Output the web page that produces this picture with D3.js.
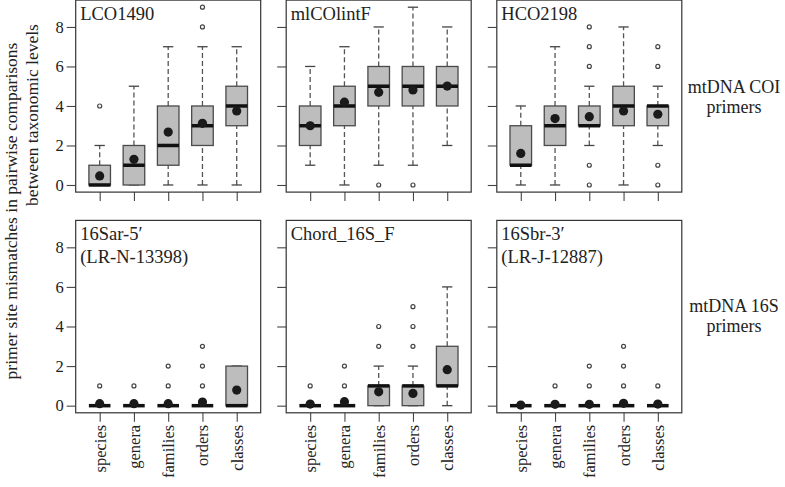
<!DOCTYPE html>
<html>
<head>
<meta charset="utf-8">
<script src="https://cdn.jsdelivr.net/npm/d3@7/dist/d3.min.js"></script>
<style>
body{margin:0;background:#fff;}
svg{display:block;font-family:"Liberation Serif","Times New Roman",serif;}
</style>
</head>
<body>
<svg id="chart" width="785" height="487"></svg>
<script>
// ---------- data ----------
const categories = ["species","genera","families","orders","classes"];
const yTicks = [0,2,4,6,8];
const panelTitles = [["LCO1490"],["mlCOlintF"],["HCO2198"],["16Sar-5\u2032","(LR-N-13398)"],["Chord_16S_F"],["16Sbr-3\u2032","(LR-J-12887)"]];
const rowLabels = [["mtDNA COI","primers"],["mtDNA 16S","primers"]];

// [lower whisker, q1, median, q3, upper whisker] per category
const lco1490Stats   = [[0,0,0,1,2],[0,0,1,2,5],[0,1,2,4,7],[0,2,3,4,7],[0,3,4,5,7]];
const lco1490Means   = [0.46,1.3,2.68,3.12,3.75];
const lco1490Out     = [[4],[],[],[8,9],[]];

const mlcoStats      = [[1,2,3,4,6],[0,3,4,5,7],[1,4,5,6,8],[1,4,5,6,9],[2,4,5,6,8]];
const mlcoMeans      = [3.0,4.19,4.69,4.81,5.01];
const mlcoOut        = [[],[],[0],[0],[]];

const hco2198Stats   = [[0,1,1,3,4],[0,2,3,4,7],[2,3,3,4,5],[0,3,4,5,8],[2,3,4,4,5]];
const hco2198Means   = [1.6,3.36,3.46,3.75,3.58];
const hco2198Out     = [[],[],[0,1,6,7,8],[],[0,1,6,7]];

const s16arStats     = [[0,0,0,0,0],[0,0,0,0,0],[0,0,0,0,0],[0,0,0,0,0],[0,0,0,2,2]];
const s16arMeans     = [0.1,0.1,0.1,0.18,0.79];
const s16arOut       = [[1],[1],[1,2],[1,2,3],[]];

const chordStats     = [[0,0,0,0,0],[0,0,0,0,0],[0,0,1,1,2],[0,0,1,1,2],[0,1,1,3,6]];
const chordMeans     = [0.08,0.2,0.7,0.62,1.82];
const chordOut       = [[1],[1,2],[3,4],[3,4,5],[]];

const s16brStats     = [[0,0,0,0,0],[0,0,0,0,0],[0,0,0,0,0],[0,0,0,0,0],[0,0,0,0,0]];
const s16brMeans     = [0.03,0.07,0.07,0.12,0.08];
const s16brOut       = [[],[1],[1,2],[1,2,3],[1]];

const panelStats = [lco1490Stats,mlcoStats,hco2198Stats,s16arStats,chordStats,s16brStats];
const panelMeans = [lco1490Means,mlcoMeans,hco2198Means,s16arMeans,chordMeans,s16brMeans];
const panelOut   = [lco1490Out,mlcoOut,hco2198Out,s16arOut,chordOut,s16brOut];

// ---------- layout ----------
const svg = d3.select("#chart");
const panelW = 185;
const colX = [75.7, 286.2, 496.8];
const rowY = [[0.1,192.1],[220.4,412.8]]; // top, bottom
const ink = "#222";
const boxStroke = "#4a4a4a";

for (let p = 0; p < 6; p++) {
  const r = Math.floor(p/3), c = p%3;
  const x0 = colX[c], x1 = x0 + panelW;
  const yTop = rowY[r][0], yBot = rowY[r][1];
  const x = d3.scaleLinear().domain([0.3, 5.7]).range([x0, x1]);
  const y = d3.scaleLinear().domain([-0.36, 9.36]).range([yBot, yTop]);
  const g = svg.append("g");

  // y axis
  const ya = d3.axisLeft(y).tickValues(yTicks).tickSize(9).tickPadding(3)
    .tickFormat(c === 0 ? d3.format("d") : () => "");
  const yg = g.append("g").attr("transform", `translate(${x0},0)`).call(ya);
  yg.select(".domain").remove();
  yg.selectAll("line").attr("stroke", "#444").attr("stroke-width", 1.1);
  yg.selectAll("text").attr("font-size", 16.5).attr("fill", ink)
    .attr("font-family", "Liberation Serif, serif");

  // x axis
  const xa = d3.axisBottom(x).tickValues([1,2,3,4,5]).tickSize(9).tickPadding(4)
    .tickFormat(r === 1 ? (d => categories[d-1]) : () => "");
  const xg = g.append("g").attr("transform", `translate(0,${yBot})`).call(xa);
  xg.select(".domain").remove();
  xg.selectAll("line").attr("stroke", "#444").attr("stroke-width", 1.1);
  xg.selectAll("text").attr("font-size", 16.5).attr("fill", ink)
    .attr("font-family", "Liberation Serif, serif")
    .attr("transform", "rotate(-90)")
    .attr("text-anchor", "end").attr("dy", "0.33em")
    .attr("x", -12).attr("y", 0);

  const stats = panelStats[p], means = panelMeans[p], outs = panelOut[p];
  const bw = x(1.315) - x(1), cw = x(1.15) - x(1);

  stats.forEach((s, i) => {
    const cx = x(i+1);
    // whiskers (dashed)
    g.append("line").attr("x1", cx).attr("x2", cx).attr("y1", y(s[0])).attr("y2", y(s[1]))
      .attr("stroke", "#555").attr("stroke-width", 1.3).attr("stroke-dasharray", "5,3");
    g.append("line").attr("x1", cx).attr("x2", cx).attr("y1", y(s[3])).attr("y2", y(s[4]))
      .attr("stroke", "#555").attr("stroke-width", 1.3).attr("stroke-dasharray", "5,3");
    // caps
    [s[0], s[4]].forEach(v => {
      g.append("line").attr("x1", cx - cw).attr("x2", cx + cw).attr("y1", y(v)).attr("y2", y(v))
        .attr("stroke", "#444").attr("stroke-width", 1.3);
    });
    // box
    g.append("rect").attr("x", cx - bw).attr("width", 2*bw)
      .attr("y", y(s[3])).attr("height", Math.max(0, y(s[1]) - y(s[3])))
      .attr("fill", "#bdbdbd").attr("stroke", boxStroke).attr("stroke-width", 1.3);
    // median
    g.append("line").attr("x1", cx - bw).attr("x2", cx + bw).attr("y1", y(s[2])).attr("y2", y(s[2]))
      .attr("stroke", "#111").attr("stroke-width", 3.5);
    // outliers
    outs[i].forEach(v => {
      g.append("circle").attr("cx", cx).attr("cy", y(v)).attr("r", 2)
        .attr("fill", "#fff").attr("stroke", "#444").attr("stroke-width", 1.2);
    });
    // mean
    g.append("circle").attr("cx", cx).attr("cy", y(means[i])).attr("r", 4.6).attr("fill", "#1a1a1a");
  });

  // frame
  g.append("rect").attr("x", x0).attr("y", yTop).attr("width", panelW).attr("height", yBot - yTop)
    .attr("fill", "none").attr("stroke", "#333").attr("stroke-width", 1.2);

  // title
  panelTitles[p].forEach((t, k) => {
    g.append("text").attr("x", x0 + 4.5).attr("y", yTop + 19.5 + k*23.5)
      .attr("font-size", 18.5).attr("fill", ink).text(t);
  });
}

// row labels
const rowBase = [93, 312];
rowLabels.forEach((lines, r) => {
  lines.forEach((t, k) => {
    svg.append("text").attr("x", 734).attr("y", rowBase[r] + k*20)
      .attr("text-anchor", "middle").attr("font-size", 18).attr("fill", ink).text(t);
  });
});

// y title
const yTitle = ["primer site mismatches in pairwise comparisons","between taxonomic levels"];
svg.append("text").attr("transform", "translate(17,211) rotate(-90)")
  .attr("text-anchor", "middle").attr("font-size", 17.5).attr("fill", ink).text(yTitle[0]);
svg.append("text").attr("transform", "translate(38,115) rotate(-90)")
  .attr("text-anchor", "middle").attr("font-size", 17.5).attr("fill", ink).text(yTitle[1]);
</script>
</body>
</html>
